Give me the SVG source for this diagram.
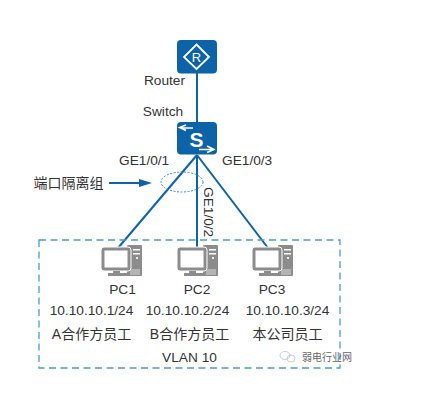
<svg xmlns="http://www.w3.org/2000/svg" width="428" height="400" viewBox="0 0 428 400">
<defs>
<style>
text{font-family:"Liberation Sans","Noto Sans CJK SC",sans-serif;font-size:13.7px;fill:#333}
.cjk{font-size:14px}
.m{text-anchor:middle}
.link{stroke:#0c63a8;stroke-width:2;fill:none}
.dev{fill:#0c63a8}
</style>
<g id="pc">
<rect x="26" y="0" width="15" height="31" rx="1" fill="#8c8c8c"/>
<rect x="32" y="4" width="7" height="1.500" fill="#fff"/>
<rect x="32" y="8" width="7" height="1.500" fill="#fff"/>
<circle cx="36" cy="13" r="1.100" fill="#fff"/>
<rect x="0" y="2" width="30" height="24" rx="3" fill="#8c8c8c" stroke="#fff" stroke-width="1"/>
<rect x="3.500" y="5.500" width="23" height="17" fill="#fff"/>
<rect x="12" y="26" width="7" height="2" fill="#8c8c8c"/>
<rect x="7" y="28" width="20" height="3" fill="#8c8c8c"/>
<path d="M30 30v-6M32 30v-6M34 30v-6M36 30v-6M38 30v-6" stroke="#fff" stroke-width="0.700"/>
</g>
</defs>
<rect width="428" height="400" fill="#fff"/>
<g id="connectors">
<path class="link" d="M197 70V125"/>
<path class="link" d="M197 155L118 248"/>
<path class="link" d="M197 155V248"/>
<path class="link" d="M197 155L268 248"/>
<path class="link" d="M109 183H140"/>
<path d="M139 179L152 183L139 187Z" fill="#0c63a8"/>
</g>
<g id="router">
<rect class="dev" x="177" y="40" width="40" height="33.500" rx="4"/>
<path d="M196.500 44.500L209 57L196.500 69L184 57Z" fill="none" stroke="#fff" stroke-width="1.800"/>
<text class="m" x="196.500" y="62" style="font-size:13px;fill:#fff">R</text>
<text class="m" x="164.500" y="85">Router</text>
</g>
<g id="switch">
<text class="m" x="163" y="116">Switch</text>
<rect class="dev" x="177" y="122" width="40" height="32.500" rx="4"/>
<path d="M193 128H181M186 125L179.500 127.500L186 130.500M199 149.500H212M207 146L214 149.500L207 152.500" fill="none" stroke="#fff" stroke-width="1.500"/>
<text class="m" x="196.500" y="146.500" style="font-size:21px;font-weight:bold;fill:#fff">S</text>
</g>
<g id="port-labels">
<text x="119" y="164.500">GE1/0/1</text>
<text x="222" y="164.500">GE1/0/3</text>
<text transform="translate(204,187) rotate(90)">GE1/0/2</text>
</g>
<g id="isolation-group">
<text class="cjk" x="33.500" y="188">端口隔离组</text>
<ellipse cx="182" cy="182" rx="21" ry="10" fill="none" stroke="#2f8bc9" stroke-width="1" stroke-dasharray="2 1.500"/>
</g>
<rect id="vlan-box" x="39" y="240" width="301" height="128" fill="none" stroke="#4a9bd0" stroke-width="1.300" stroke-dasharray="7 4.500"/>
<g id="pc1">
<use href="#pc" x="101" y="245"/>
<text class="m" x="122.500" y="294">PC1</text>
<text class="m" x="91.500" y="315">10.10.10.1/24</text>
<text class="m cjk" x="91.500" y="339">A合作方员工</text>
</g>
<g id="pc2">
<use href="#pc" x="177" y="245"/>
<text class="m" x="197" y="294">PC2</text>
<text class="m" x="187.500" y="315">10.10.10.2/24</text>
<text class="m cjk" x="189.500" y="339">B合作方员工</text>
</g>
<g id="pc3">
<use href="#pc" x="252" y="245"/>
<text class="m" x="272" y="294">PC3</text>
<text class="m" x="287.500" y="315">10.10.10.3/24</text>
<text class="m cjk" x="287.500" y="339">本公司员工</text>
</g>
<text id="vlan-label" class="m" x="189.500" y="362">VLAN 10</text>
<g id="watermark">
<ellipse cx="285" cy="355.500" rx="5" ry="4" fill="none" stroke="#ccc"/>
<ellipse cx="291" cy="358.500" rx="4" ry="3.500" fill="none" stroke="#ccc"/>
<text x="302" y="360.500" style="font-size:10px;fill:#666">弱电行业网</text>
</g>
</svg>
